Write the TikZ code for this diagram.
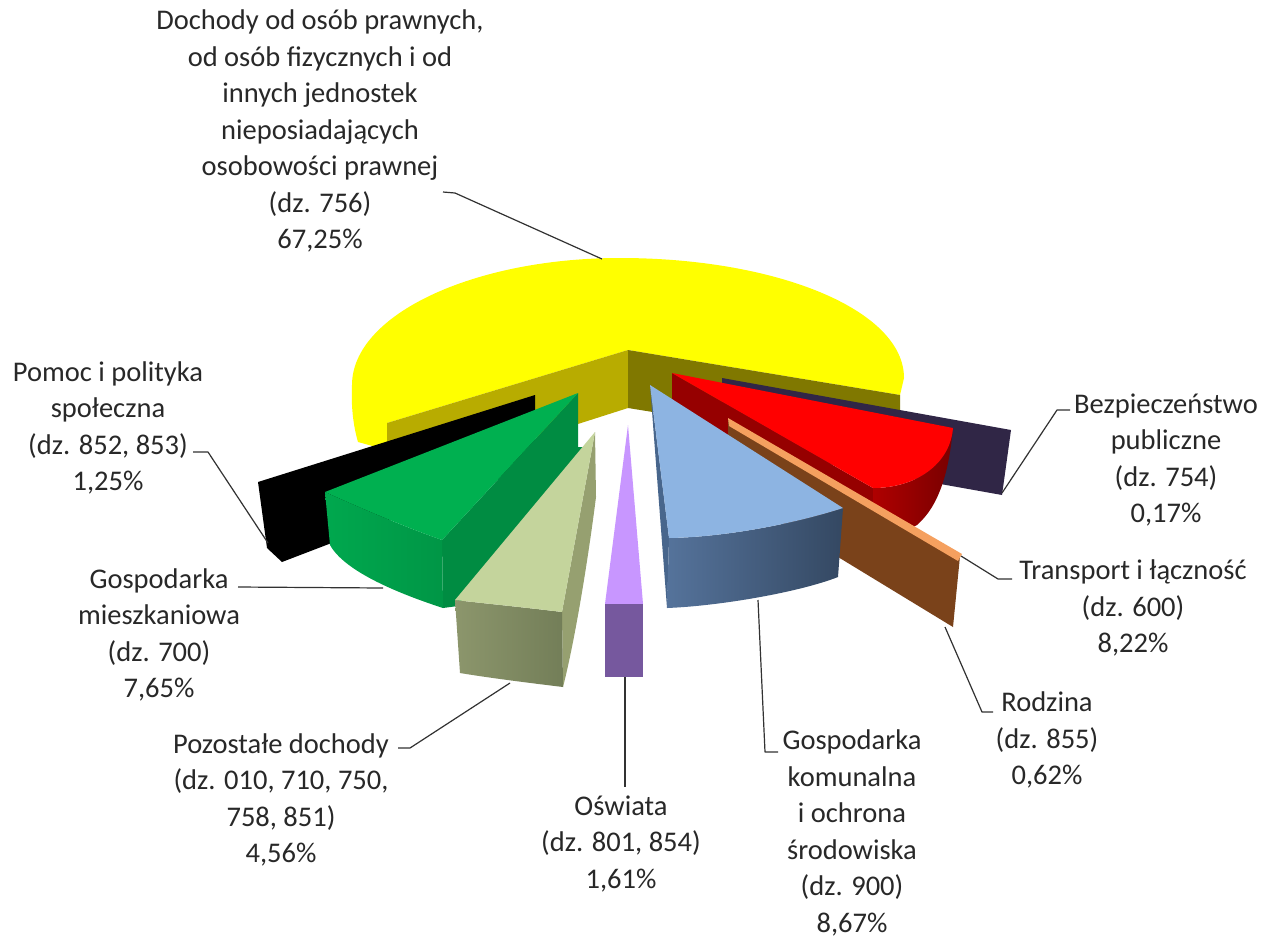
\documentclass[tikz,border=0pt]{standalone}
\usepackage{fontspec}
\setmainfont{Carlito}
\definecolor{txt}{RGB}{40,40,40}
\definecolor{leadc}{RGB}{50,50,50}
\definecolor{yel}{RGB}{255,255,0}
\definecolor{olL}{RGB}{184,172,0}
\definecolor{olR}{RGB}{128,120,0}
\definecolor{navy}{RGB}{48,38,70}
\definecolor{redT}{RGB}{255,0,0}
\definecolor{redS}{RGB}{150,0,0}
\definecolor{redF1}{RGB}{175,0,0}
\definecolor{redF2}{RGB}{120,0,0}
\definecolor{grnT}{RGB}{0,176,80}
\definecolor{grnF1}{RGB}{0,168,78}
\definecolor{grnF2}{RGB}{0,150,70}
\definecolor{grnR}{RGB}{0,140,66}
\definecolor{pozT}{RGB}{196,212,156}
\definecolor{pozF1}{RGB}{140,150,108}
\definecolor{pozF2}{RGB}{115,126,88}
\definecolor{pozR}{RGB}{150,160,112}
\definecolor{purT}{RGB}{200,150,255}
\definecolor{purF}{RGB}{118,88,158}
\definecolor{bluT}{RGB}{141,180,226}
\definecolor{bluS}{RGB}{72,102,140}
\definecolor{bluF1}{RGB}{85,115,155}
\definecolor{bluF2}{RGB}{52,72,98}
\definecolor{brn}{RGB}{122,66,26}
\definecolor{orn}{RGB}{245,160,95}
\begin{document}
\begin{tikzpicture}[x=1pt,y=-1pt,
  lbl/.style={align=center,text=txt,font=\fontsize{28.5}{36.5}\selectfont,inner sep=0pt},
  lead/.style={draw=leadc,line width=1.2pt,line join=round}]
\useasboundingbox (0,0) rectangle (1273,937);
\fill[white] (0,0) rectangle (1273,937);

% ---------- yellow slice (Dochody 756) ----------
\fill[yel] (628,350) -- (387,423) -- (387,450) -- (358,442)
  .. controls (353,425) and (351,405) .. (352,385)
  .. controls (352,315) and (473,258) .. (620,258)
  .. controls (777,258) and (904,310) .. (904,378)
  -- (900,395) -- cycle;
\fill[olL] (628,350) -- (387,423) -- (387,485) -- (628,408) -- cycle;
\fill[olR] (628,350) -- (900,395) -- (900,452) -- (628,408) -- cycle;

% ---------- navy slice (Bezpieczenstwo) ----------
\fill[navy] (722,378) -- (1011,430) -- (1002,495) -- (722,445) -- cycle;

% ---------- red slice (Transport) ----------
\fill[redS] (672,373) -- (873,488) -- (873,550) -- (672,430) -- cycle;
\shade[left color=redF1,right color=redF2] (873,488)
  .. controls (915,488) and (950,465) .. (953,428)
  .. controls (949,470) and (940,505) .. (917,525)
  -- (873,548) -- cycle;
\fill[redT] (672,373) -- (953,428)
  .. controls (950,465) and (915,488) .. (873,488) -- cycle;

% ---------- black slice (Pomoc) ----------
\fill[black] (535,395) -- (258,482) -- (267,548) -- (282,562) -- (535,465) -- cycle;

% ---------- green slice (Gospodarka mieszkaniowa) ----------
\fill[grnR] (578,393) -- (442,540) -- (443,608) -- (458,606) -- (588,447) -- (578,447) -- cycle;
\shade[left color=grnF1,right color=grnF2] (325,492)
  .. controls (365,510) and (405,527) .. (442,540)
  -- (443,608)
  .. controls (400,594) and (345,572) .. (330,545) -- cycle;
\fill[grnT] (578,393) -- (325,492)
  .. controls (365,510) and (405,527) .. (442,540) -- cycle;

% ---------- brown slice (Rodzina) ----------
\fill[brn] (728,420) -- (960,556) -- (953,627) -- (728,490) -- cycle;
\fill[orn] (728,418) -- (962,554) -- (958,561) -- (729,426) -- cycle;

% ---------- blue slice (Gospodarka komunalna) ----------
\fill[bluS] (650,385) -- (669,538) -- (667,608) -- cycle;
\shade[left color=bluF1,right color=bluF2] (669,538)
  .. controls (730,537) and (800,522) .. (843,508)
  -- (838,577)
  .. controls (800,592) and (720,606) .. (667,608) -- cycle;
\fill[bluT] (650,385) -- (843,508)
  .. controls (800,522) and (730,537) .. (669,538) -- cycle;

% ---------- light olive slice (Pozostale) ----------
\fill[pozR] (595,432) -- (596,497) .. controls (588,560) and (575,640) .. (563,687)
  -- (562,612) -- cycle;
\shade[left color=pozF1,right color=pozF2] (455,600)
  .. controls (490,604) and (530,608) .. (562,612)
  -- (563,687)
  .. controls (530,683) and (490,678) .. (460,673) -- cycle;
\fill[pozT] (595,432) -- (455,600)
  .. controls (490,604) and (530,608) .. (562,612) -- cycle;

% ---------- purple slice (Oswiata) ----------
\fill[purT] (628,425) -- (605,604) -- (643,604) -- cycle;
\fill[purF] (605,604) rectangle (643,677);

% ---------- labels ----------
\node[lbl] (ldoch) at (320,131) {Dochody od osób prawnych,\\od osób fizycznych i od\\innych jednostek\\nieposiadających\\osobowości prawnej\\(dz. 756)\\67,25\%};
\node[lbl] (lpom) at (108,428) {Pomoc i polityka\\społeczna\\(dz. 852, 853)\\1,25\%};
\node[lbl] (lmie) at (159,635) {Gospodarka\\mieszkaniowa\\(dz. 700)\\7,65\%};
\node[lbl] (lpoz) at (281,800) {Pozostałe dochody\\(dz. 010, 710, 750,\\758, 851)\\4,56\%};
\node[lbl] (losw) at (621,844) {Oświata\\(dz. 801, 854)\\1,61\%};
\node[lbl] (lkom) at (852,833) {Gospodarka\\komunalna\\i ochrona\\środowiska\\(dz. 900)\\8,67\%};
\node[lbl] (lrod) at (1047,740) {Rodzina\\(dz. 855)\\0,62\%};
\node[lbl] (ltra) at (1133,608) {Transport i łączność\\(dz. 600)\\8,22\%};
\node[lbl] (lbez) at (1166,460) {Bezpieczeństwo\\publiczne\\(dz. 754)\\0,17\%};

% ---------- leader lines ----------
\coordinate (d1) at (443,192); \coordinate (d2) at (455,193); \coordinate (d3) at (602,259);
\draw[lead] (d1) -- (d2) -- (d3);
\coordinate (p1) at (193,452); \coordinate (p2) at (208,452); \coordinate (p3) at (268,543);
\draw[lead] (p1) -- (p2) -- (p3);
\coordinate (m1) at (238,587); \coordinate (m2) at (383,588);
\draw[lead] (m1) -- (m2);
\coordinate (z1) at (398,748); \coordinate (z2) at (410,748); \coordinate (z3) at (510,683);
\draw[lead] (z1) -- (z2) -- (z3);
\coordinate (o1) at (625,677); \coordinate (o2) at (625,787);
\draw[lead] (o1) -- (o2);
\coordinate (k1) at (758,600); \coordinate (k2) at (765,752); \coordinate (k3) at (778,752);
\draw[lead] (k1) -- (k2) -- (k3);
\coordinate (r1) at (945,627); \coordinate (r2) at (982,712); \coordinate (r3) at (993,712);
\draw[lead] (r1) -- (r2) -- (r3);
\coordinate (t1) at (961,556); \coordinate (t2) at (998,579); \coordinate (t3) at (1012,579);
\draw[lead] (t1) -- (t2) -- (t3);
\coordinate (b1) at (1002,493); \coordinate (b2) at (1057,410); \coordinate (b3) at (1070,410);
\draw[lead] (b1) -- (b2) -- (b3);
\end{tikzpicture}
\end{document}
